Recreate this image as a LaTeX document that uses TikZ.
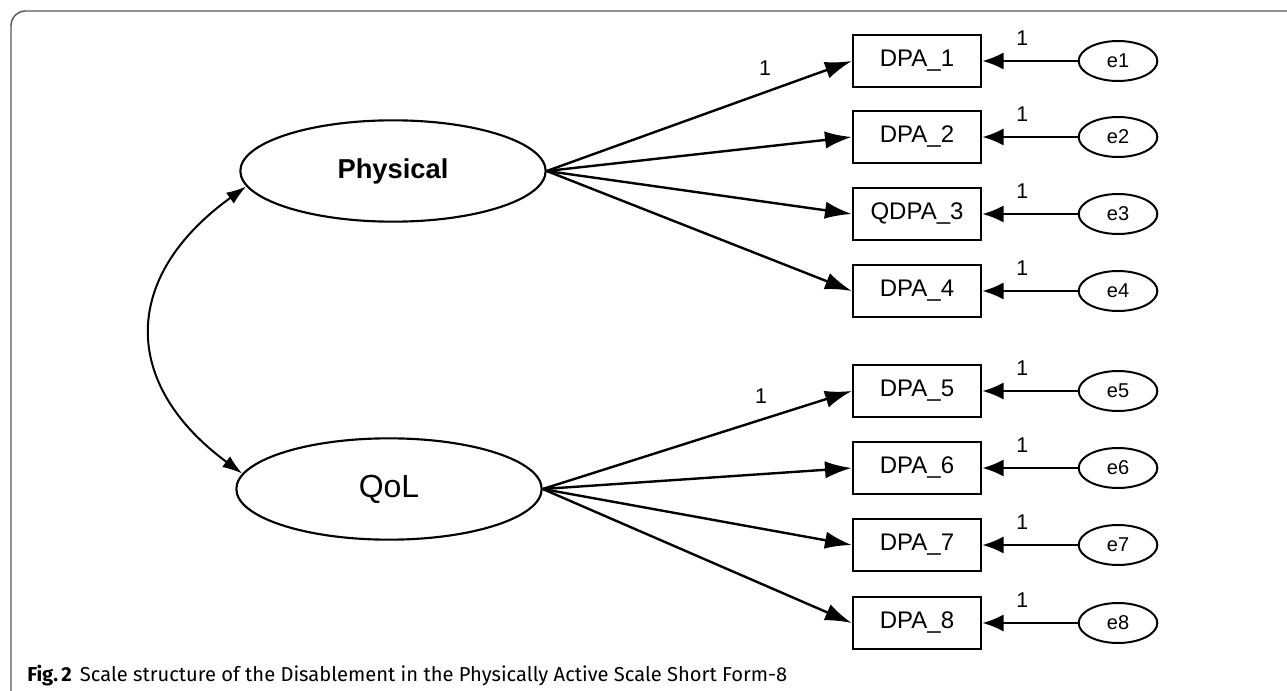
\documentclass[tikz,border=0pt]{standalone}
\usepackage{fontspec}
\setmainfont{Liberation Sans}
\newfontfamily\capfont{Fira Sans}
\usetikzlibrary{arrows.meta,shapes.geometric}

\tikzset{
	lat/.style={draw,ellipse,line width=1.6pt,inner sep=0,minimum width=229pt,minimum height=76pt},
	obs/.style={draw,line width=2pt,inner sep=0,minimum width=96pt,minimum height=39pt,font=\fontsize{18}{18}\selectfont},
	err/.style={draw,ellipse,line width=1.5pt,inner sep=0,minimum width=59pt,minimum height=30pt,font=\fontsize{15}{15}\selectfont},
	load/.style={line width=1.8pt,-{Latex[length=20pt,width=13pt]}},
	errload/.style={line width=1.8pt,-{Latex[length=16pt,width=13pt]}},
	cov/.style={line width=1.5pt,{Latex[length=15pt,width=10pt]}-{Latex[length=15pt,width=10pt]}},
	fixed/.style={font=\fontsize{16}{16}\selectfont}
}

\begin{document}
\begin{tikzpicture}[x=0.75pt,y=-0.75pt]
\useasboundingbox (0,0) rectangle (1287,691);
% frame
\draw[black!65,line width=1.1pt,rounded corners=11pt] (11,691)--(11,11)--(1287,11);

% latent factors
\node[lat,font=\bfseries\fontsize{20.5}{20.5}\selectfont] (phys) at (393,171) {Physical};
\node[lat,font=\fontsize{24}{24}\selectfont] (qol) at (389,489) {QoL};
\draw[cov] (phys.186) .. controls +(-125,90) and +(-122,-90) .. (qol.174);

% items and errors
\foreach \i/\y/\t in {1/61/DPA\_1,2/137/DPA\_2,3/214/QDPA\_3,4/291/DPA\_4,
	5/391/DPA\_5,6/468/DPA\_6,7/545/DPA\_7,8/623/DPA\_8}{
	\node[obs] (dpa\i) at (917,\y) {\t};
	\node[err] (e\i) at (1118,\y) {e\i};
	\draw[errload] (e\i)--node[fixed,pos=.58,yshift=17pt]{1}(dpa\i);
}

% loadings
\foreach \i in {1,...,4}
	\draw[load] (phys.east)--(dpa\i.west);
\foreach \i in {5,...,8}
	\draw[load] (qol.east)--(dpa\i.west);
\node[fixed] (l1) at (765,68) {1};
\node[fixed] (l5) at (761,396) {1};

% caption
\node[anchor=base west,inner sep=0,font=\capfont\fontsize{15.1}{15.1}\selectfont] (cap) at (27,681)
	{\textbf{Fig.\,2}\hspace{6pt}Scale structure of the Disablement in the Physically Active Scale Short Form-8};
\end{tikzpicture}
\end{document}
